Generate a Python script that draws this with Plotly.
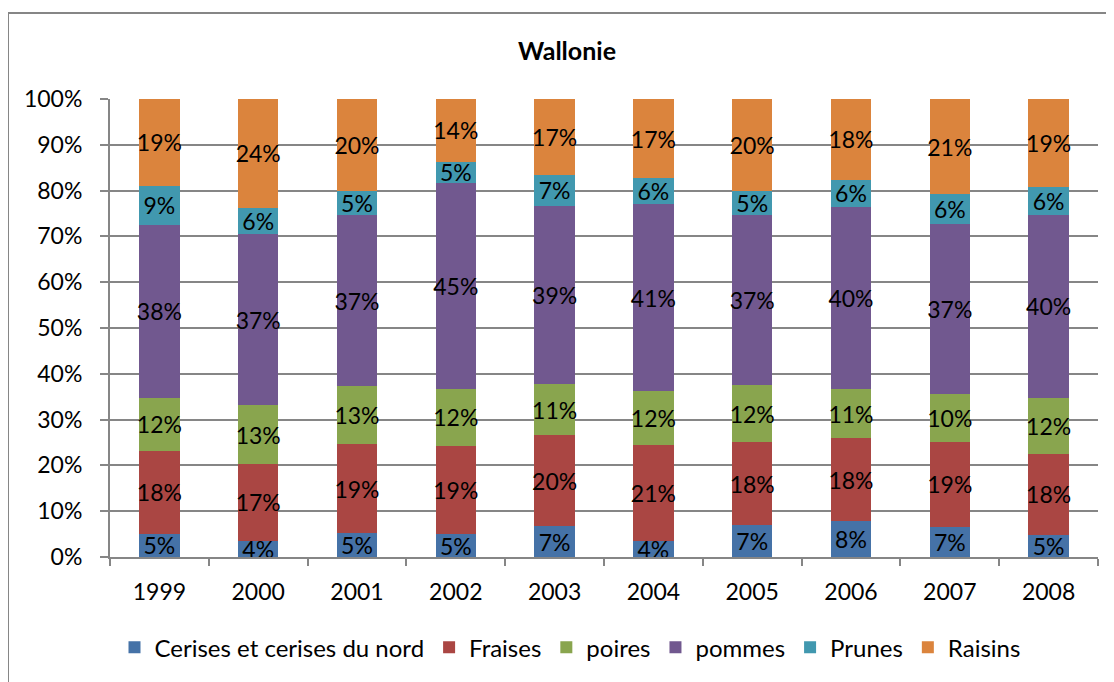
import plotly.graph_objects as go

years = ["1999", "2000", "2001", "2002", "2003", "2004", "2005", "2006", "2007", "2008"]
cerises = [5.1, 3.6, 5.3, 5.0, 6.7, 3.6, 6.9, 7.8, 6.6, 4.9]
fraises = [18.0, 16.7, 19.3, 19.3, 19.9, 20.9, 18.2, 18.1, 18.55, 17.6]
poires = [11.7, 12.8, 12.8, 12.4, 11.2, 11.7, 12.4, 10.8, 10.35, 12.2]
pommes = [37.7, 37.4, 37.2, 45.0, 38.9, 40.8, 37.1, 39.8, 37.3, 40.0]
prunes = [8.6, 5.8, 5.3, 4.6, 6.7, 5.7, 5.4, 5.9, 6.4, 6.1]
raisins = [18.9, 23.7, 20.1, 13.7, 16.6, 17.3, 20.0, 17.6, 20.8, 19.2]

series = [
    ("Cerises et cerises du nord", cerises, "#4572A7"),
    ("Fraises", fraises, "#AA4643"),
    ("poires", poires, "#89A54E"),
    ("pommes", pommes, "#71588F"),
    ("Prunes", prunes, "#4198AF"),
    ("Raisins", raisins, "#DB843D"),
]

FONT = "Lato"
# page has an 8px body margin: figure pixel = page pixel - 8
OFF = 8
W, H = 1114 - OFF, 682 - OFF

fig = go.Figure()
for name, vals, col in series:
    fig.add_trace(go.Bar(
        x=years, y=vals, name=name,
        marker=dict(color=col, line=dict(width=0)),
        texttemplate="%{y:.0f}%", textposition="inside", textangle=0,
        insidetextanchor="middle", constraintext="none",
        textfont=dict(color="black", size=23, family=FONT),
        cliponaxis=False,
    ))

L, T = 110 - OFF, 99 - OFF
R = 16
plot_bottom = 557.3 - OFF
B = H - plot_bottom
plot_w = W - L - R
plot_h = plot_bottom - T

fig.update_layout(
    barmode="stack",
    bargap=0.59,
    width=W, height=H,
    margin=dict(l=L, r=R, t=T, b=B),
    paper_bgcolor="white", plot_bgcolor="white",
    font=dict(family=FONT, size=23, color="black"),
    uniformtext=dict(minsize=23, mode="show"),
    title=dict(text="<b>Wallonie</b>", x=(567 - OFF) / W, xanchor="center",
               y=1 - (51 - OFF) / H, yanchor="middle", font=dict(size=25, family=FONT)),
    showlegend=True,
    legend=dict(orientation="h", x=(570 - OFF - L) / plot_w, xanchor="center",
                y=-(648 - OFF - plot_bottom) / plot_h, yanchor="middle",
                font=dict(size=24, family=FONT), traceorder="normal",
                itemwidth=30),
    xaxis=dict(type="category", showline=True, linecolor="#868686", linewidth=2,
               ticks="outside", tickson="boundaries", ticklen=7, tickcolor="#868686",
               tickwidth=2, showgrid=False, ticklabelstandoff=13,
               tickfont=dict(size=23, family=FONT)),
    yaxis=dict(range=[0, 100], dtick=10, ticksuffix="%", showline=True,
               linecolor="#868686", linewidth=2, ticks="outside", ticklen=8,
               tickcolor="#868686", tickwidth=2, showgrid=True,
               gridcolor="#868686", gridwidth=2, zeroline=False,
               ticklabelstandoff=13, tickfont=dict(size=23, family=FONT)),
    shapes=[dict(type="rect", xref="paper", yref="paper",
                 x0=(8 - OFF - L) / plot_w, x1=1.3,
                 y0=-0.6, y1=(plot_bottom - (13 - OFF)) / plot_h,
                 line=dict(color="#868686", width=2), fillcolor="rgba(0,0,0,0)",
                 layer="below")],
)

fig.write_html("out.html")
